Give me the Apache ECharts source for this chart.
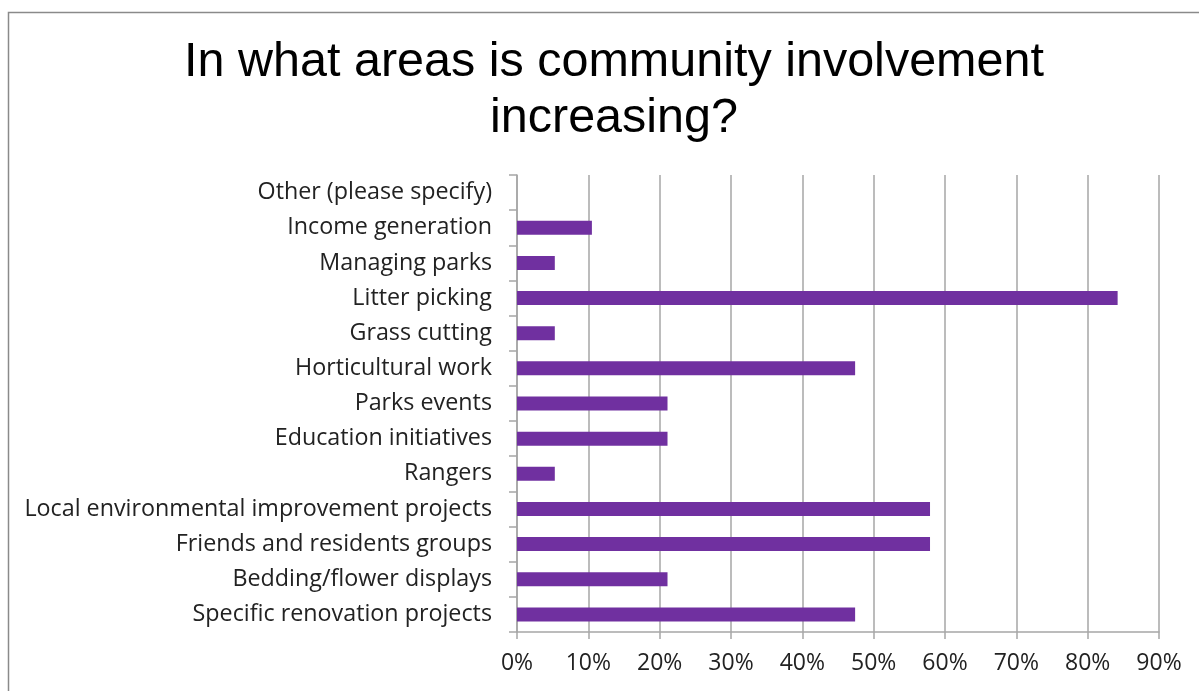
<!DOCTYPE html>
<html>
<head>
<meta charset="utf-8">
<script src="https://cdn.jsdelivr.net/npm/echarts@6/dist/echarts.min.js"></script>
<style>
  html, body { margin: 0; padding: 0; background: #fff; }
  #chart { width: 1199px; height: 691px; }
</style>
</head>
<body>
<div id="chart"></div>
<script>
// Survey categories, listed bottom to top as they appear on the axis
const categories = [
  'Specific renovation projects',
  'Bedding/flower displays',
  'Friends and residents groups',
  'Local environmental improvement projects',
  'Rangers',
  'Education initiatives',
  'Parks events',
  'Horticultural work',
  'Grass cutting',
  'Litter picking',
  'Managing parks',
  'Income generation',
  'Other (please specify)'
];

// Share of respondents (%) reporting increased involvement
const percentValues = [47.4, 21.1, 57.9, 57.9, 5.3, 21.1, 21.1, 47.4, 5.3, 84.2, 5.3, 10.5, 0];

const titleLines = ['In what areas is community involvement', 'increasing?'];

const labelFont = '"Open Sans", Lato, sans-serif';

const chart = echarts.init(document.getElementById('chart'), null, { renderer: 'canvas' });

chart.setOption({
  animation: false,
  backgroundColor: '#ffffff',
  title: {
    text: titleLines.join('\n'),
    left: 609,
    top: 30,
    textAlign: 'center',
    textStyle: {
      fontFamily: '"Liberation Sans", Arial, sans-serif',
      fontSize: 48.5,
      fontWeight: 'normal',
      color: '#000000',
      lineHeight: 56
    }
  },
  graphic: [{
    type: 'rect',
    shape: { x: 8.5, y: 12.5, width: 1300, height: 800 },
    style: { fill: 'none', stroke: '#8a8a8a', lineWidth: 1.5 },
    silent: true
  }],
  grid: {
    left: 517,
    right: 40,
    top: 175,
    bottom: 59,
    containLabel: false
  },
  xAxis: {
    type: 'value',
    min: 0,
    max: 90,
    interval: 10,
    axisLine: { show: true, lineStyle: { color: '#a6a6a6', width: 1.5 } },
    axisTick: { show: true, length: 7, lineStyle: { color: '#a6a6a6', width: 1.5 } },
    splitLine: { show: true, lineStyle: { color: '#a6a6a6', width: 1.5 } },
    axisLabel: {
      formatter: '{value}%',
      fontFamily: labelFont,
      fontSize: 23,
      color: '#222222',
      margin: 20
    }
  },
  yAxis: {
    type: 'category',
    data: categories,
    axisLine: { show: true, lineStyle: { color: '#a6a6a6', width: 1.5 } },
    axisTick: { show: true, length: 8, lineStyle: { color: '#a6a6a6', width: 1.5 } },
    splitLine: { show: false },
    axisLabel: {
      fontFamily: labelFont,
      fontSize: 23.3,
      color: '#222222',
      margin: 25
    }
  },
  series: [{
    type: 'bar',
    data: percentValues,
    barWidth: 14,
    itemStyle: { color: '#7030a0' },
    silent: true
  }]
});
</script>
</body>
</html>
